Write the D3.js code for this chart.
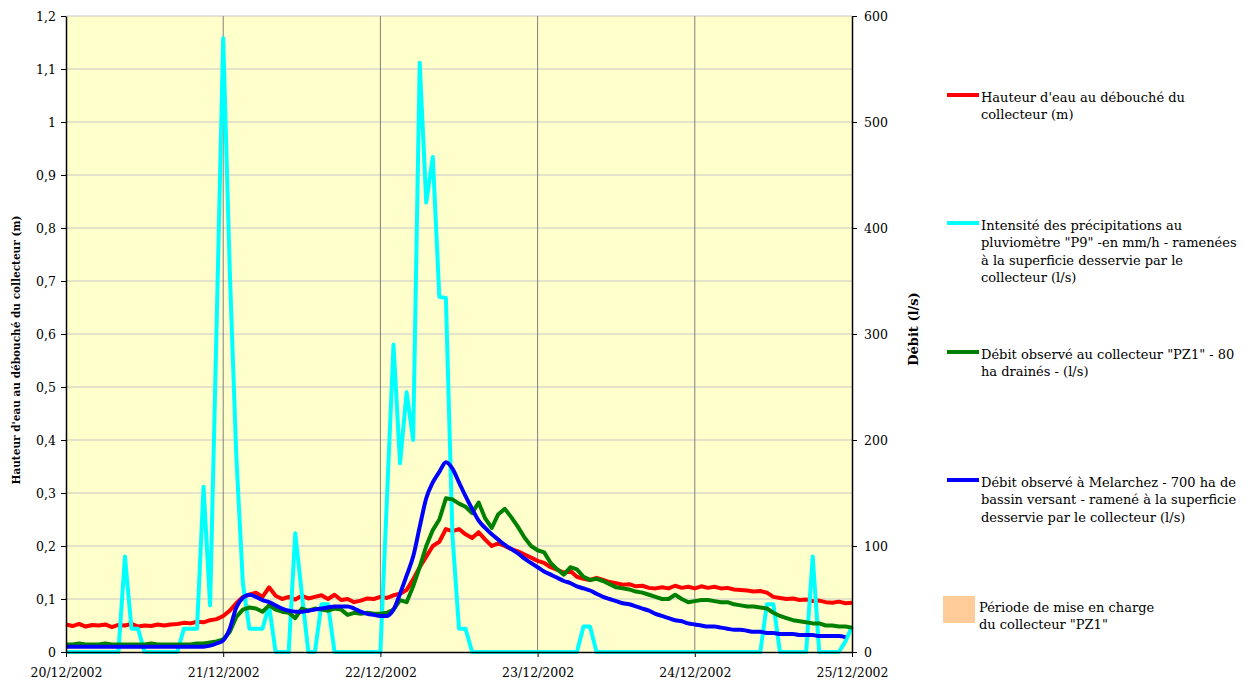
<!DOCTYPE html>
<html>
<head>
<meta charset="utf-8">
<script src="https://cdn.jsdelivr.net/npm/d3@7"></script>
<style>
  html, body { margin: 0; padding: 0; background: #ffffff; }
  svg { display: block; font-family: "DejaVu Serif", serif; }
</style>
</head>
<body>
<svg id="chart" width="1253" height="684"></svg>
<script>
// ---------------- DATA ----------------
const startDate = new Date(2002, 11, 20, 0, 0, 0);
const dayTicks = ["20/12/2002", "21/12/2002", "22/12/2002", "23/12/2002", "24/12/2002", "25/12/2002"];
const leftTicks = [0, 0.1, 0.2, 0.3, 0.4, 0.5, 0.6, 0.7, 0.8, 0.9, 1, 1.1, 1.2];
const rightTicks = [0, 100, 200, 300, 400, 500, 600];

// Hourly values from 20/12/2002 00h
// Hauteur d'eau (m) - left axis
const hauteur = [
  0.052,0.049,0.053,0.048,0.051,0.050,0.052,0.047,0.051,0.050,0.053,0.048,0.050,0.049,0.052,0.050,0.052,0.053,0.055,0.054,0.057,0.056,0.060,0.062,
  0.068,0.078,0.092,0.104,0.108,0.112,0.104,0.122,0.106,0.100,0.104,0.099,0.106,0.101,0.104,0.107,0.100,0.108,0.098,0.100,0.094,0.097,0.101,0.100,
  0.104,0.102,0.107,0.110,0.117,0.137,0.160,0.180,0.200,0.208,0.232,0.228,0.232,0.222,0.215,0.226,0.212,0.200,0.205,0.200,0.194,0.190,0.184,0.178,
  0.172,0.168,0.160,0.155,0.150,0.153,0.142,0.138,0.136,0.140,0.136,0.132,0.130,0.127,0.128,0.124,0.125,0.121,0.120,0.122,0.120,0.125,0.121,0.123,
  0.120,0.124,0.121,0.123,0.120,0.121,0.118,0.117,0.116,0.114,0.115,0.112,0.104,0.102,0.100,0.101,0.098,0.099,0.096,0.097,0.094,0.093,0.095,0.092,0.093
];
// Intensité des précipitations (l/s) - right axis
const pluie = [
  0,0,0,0,0,0,0,0, 0,90,22,22,0,0,0,0, 0,0,22,22,22,156,44,310,
  579,360,185,65,22,22,22,44, 0,0,0,112,55,0,0,45, 45,0,0,0,0,0,0,0,
  0,145,290,178,245,200,556,424, 467,335,334,110,22,22,0,0, 0,0,0,0,0,0,0,0,
  0,0,0,0,0,0,0,24, 24,0,0,0,0,0,0,0, 0,0,0,0,0,0,0,0,
  0,0,0,0,0,0,0,0, 0,0,0,45,45,0,0,0, 0,0,90,0,0,0,0,10, 24
];
// Débit PZ1 (l/s) - right axis
const debitPZ1 = [
  7,7,8,7,7,7,8,7,7,7,7,7,7,8,7,7,7,7,7,7,8,8,9,10,
  12,19,33,40,42,41,38,44,40,38,37,32,41,39,41,40,39,41,40,35,37,36,37,36,
  36,37,40,49,47,62,80,100,115,125,145,144,140,137,131,141,126,117,130,135,127,118,108,100,
  96,94,84,78,73,80,78,71,68,69,67,64,61,60,59,57,56,54,52,50,50,54,50,47,
  48,49,49,48,47,47,45,44,43,43,42,41,37,34,32,30,29,28,27,27,25,25,24,24,23
];
// Débit Melarchez (l/s) - right axis
const debitMel = [
  5,5,5,5,5,5,5,5,5,5,5,5,5,5,5,5,5,5,5,5,5,5,6,8,
  11,22,42,51,54,52,49,47,44,41,39,38,38,39,40,41,42,43,43,43,41,38,36,35,
  34,34,40,55,72,90,118,145,160,170,179,173,160,147,135,124,117,111,106,101,97,93,88,84,
  80,76,73,70,67,65,62,60,58,55,52,50,48,46,45,43,41,39,36,34,32,30,29,27,
  26,25,24,24,23,22,21,21,20,19,19,18,18,17,17,17,16,16,16,15,15,15,15,14
];

const seriesNames = [
  ["Hauteur d'eau au débouché du", "collecteur (m)"],
  ["Intensité des précipitations au", "pluviomètre \"P9\" -en mm/h - ramenées", "à la superficie desservie par le", "collecteur (l/s)"],
  ["Débit observé au collecteur \"PZ1\" - 80", "ha drainés - (l/s)"],
  ["Débit observé à Melarchez - 700 ha de", "bassin versant - ramené à la superficie", "desservie par le collecteur (l/s)"]
];
const periodName = ["Période de mise en charge", "du collecteur \"PZ1\""];
const leftTitle = "Hauteur d'eau au débouché du collecteur (m)";
const rightTitle = "Débit (l/s)";

// ---------------- CHART ----------------
const svg = d3.select("#chart");
const M = { left: 66, right: 852, top: 16, bottom: 652 };
const FONT = 12.5;
const LFONT = 13;

const hourDate = h => new Date(startDate.getTime() + h * 3600 * 1000);
const dayDates = dayTicks.map((_, i) => new Date(2002, 11, 20 + i));

const x = d3.scaleTime().domain([dayDates[0], dayDates[dayDates.length - 1]]).range([M.left, M.right]);
const yL = d3.scaleLinear().domain([0, 1.2]).range([M.bottom, M.top]);
const yR = d3.scaleLinear().domain([0, 600]).range([M.bottom, M.top]);

svg.append("rect").attr("width", 1253).attr("height", 684).attr("fill", "#ffffff");
svg.append("rect")
  .attr("x", M.left).attr("y", M.top)
  .attr("width", M.right - M.left).attr("height", M.bottom - M.top)
  .attr("fill", "#FFFFCC");

// horizontal grid
svg.append("g").selectAll("line").data(leftTicks.filter(d => d > 0)).join("line")
  .attr("x1", M.left).attr("x2", M.right)
  .attr("y1", d => yL(d)).attr("y2", d => yL(d))
  .attr("stroke", "#c8c8c8").attr("stroke-width", 1.2);
// vertical grid
svg.append("g").selectAll("line").data(dayDates.slice(1, -1)).join("line")
  .attr("x1", d => x(d)).attr("x2", d => x(d))
  .attr("y1", M.top).attr("y2", M.bottom)
  .attr("stroke", "#808080").attr("stroke-width", 1);

// series
const mk = arr => arr.map((v, i) => [hourDate(i), v]);
const lineL = d3.line().x(d => x(d[0])).y(d => yL(d[1]));
const lineR = d3.line().x(d => x(d[0])).y(d => yR(d[1]));
const lineRSmooth = d3.line().x(d => x(d[0])).y(d => yR(d[1])).curve(d3.curveMonotoneX);

const plot = svg.append("g");
plot.append("path").datum(mk(hauteur)).attr("d", lineL)
  .attr("fill", "none").attr("stroke", "#FF0000").attr("stroke-width", 4).attr("stroke-linejoin", "round");
plot.append("path").datum(mk(pluie)).attr("d", lineR)
  .attr("fill", "none").attr("stroke", "#00FFFF").attr("stroke-width", 4).attr("stroke-linejoin", "round");
plot.append("path").datum(mk(debitPZ1)).attr("d", lineR)
  .attr("fill", "none").attr("stroke", "#008000").attr("stroke-width", 4).attr("stroke-linejoin", "round");
plot.append("path").datum(mk(debitMel)).attr("d", lineRSmooth)
  .attr("fill", "none").attr("stroke", "#0000FF").attr("stroke-width", 4).attr("stroke-linejoin", "round");

// axes
const fmtComma = d => String(d).replace(".", ",");
const gL = svg.append("g").attr("transform", `translate(${M.left},0)`)
  .call(d3.axisLeft(yL).tickValues(leftTicks).tickFormat(fmtComma).tickSize(5).tickPadding(5).tickSizeOuter(0));
const gR = svg.append("g").attr("transform", `translate(${M.right},0)`)
  .call(d3.axisRight(yR).tickValues(rightTicks).tickSize(5).tickPadding(7).tickSizeOuter(0));
const gB = svg.append("g").attr("transform", `translate(0,${M.bottom})`)
  .call(d3.axisBottom(x).tickValues(dayDates).tickFormat((d, i) => dayTicks[i]).tickSize(5).tickPadding(11).tickSizeOuter(0));
[gL, gR, gB].forEach(g => {
  g.selectAll("text").attr("font-family", "DejaVu Serif").attr("font-size", FONT).attr("fill", "#000");
  g.selectAll("line").attr("stroke", "#000");
  g.select(".domain").attr("stroke", "#000").attr("stroke-width", 1.5);
});

// axis titles
svg.append("text")
  .attr("transform", `translate(20,${(M.top + M.bottom) / 2 + 16}) rotate(-90)`)
  .attr("text-anchor", "middle").attr("font-weight", "bold").attr("font-size", 10.5)
  .text(leftTitle);
svg.append("text")
  .attr("transform", `translate(918,329) rotate(-90)`)
  .attr("text-anchor", "middle").attr("font-weight", "bold").attr("font-size", 13)
  .text(rightTitle);

// legend
const legendColors = ["#FF0000", "#00FFFF", "#008000", "#0000FF"];
const legendY = [95, 223, 352, 480];
const lg = svg.append("g");
seriesNames.forEach((lines, i) => {
  lg.append("line").attr("x1", 947).attr("x2", 979).attr("y1", legendY[i]).attr("y2", legendY[i])
    .attr("stroke", legendColors[i]).attr("stroke-width", 4);
  const t = lg.append("text").attr("x", 981).attr("y", legendY[i] + 6.5).attr("font-size", LFONT);
  lines.forEach((ln, j) => t.append("tspan").attr("x", 981).attr("dy", j === 0 ? 0 : 17.5).text(ln));
});
lg.append("rect").attr("x", 943).attr("y", 596).attr("width", 32).attr("height", 27).attr("fill", "#FFCC99");
const tp = lg.append("text").attr("x", 979).attr("y", 611.5).attr("font-size", LFONT);
periodName.forEach((ln, j) => tp.append("tspan").attr("x", 979).attr("dy", j === 0 ? 0 : 17.5).text(ln));
</script>
</body>
</html>
